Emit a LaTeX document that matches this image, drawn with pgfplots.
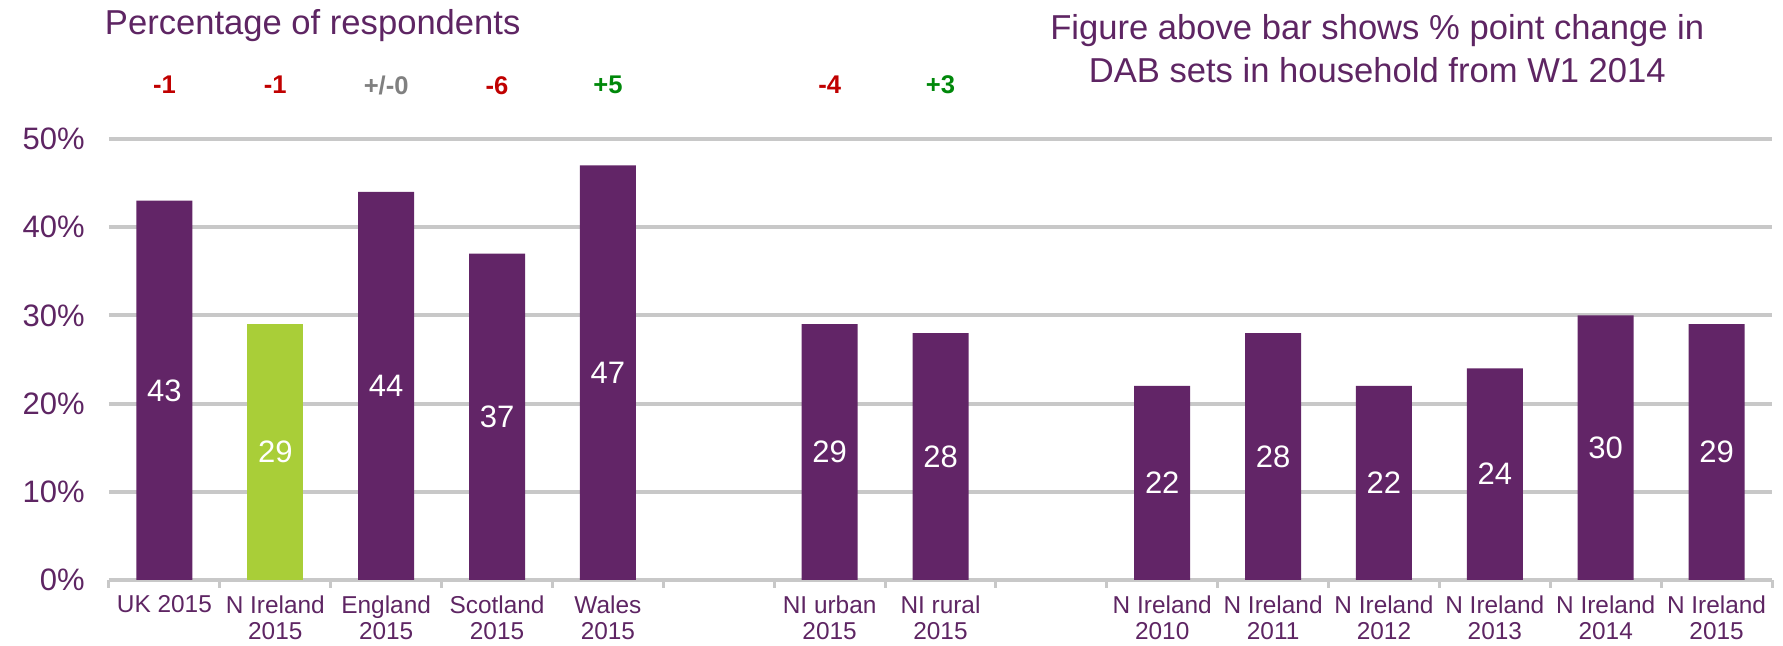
\documentclass[border=0pt]{standalone}
\usepackage{pgfplots}
\pgfplotsset{compat=1.18}
\usepackage{fontspec}
\setmainfont{Liberation Sans}
\definecolor{barpurple}{HTML}{622567}
\definecolor{bargreen}{HTML}{A9CE38}
\definecolor{txtpurple}{HTML}{5E2563}
\definecolor{gridgray}{HTML}{C8C8C8}
\definecolor{chred}{HTML}{C00000}
\definecolor{chgreen}{HTML}{00880A}
\definecolor{chgray}{HTML}{808080}
\tikzset{
  valnode/.style={text=white, font=\fontsize{15.5}{18}\selectfont},
  chnode/.style={font=\bfseries\fontsize{12.8}{15}\selectfont},
}
\begin{document}
\begin{tikzpicture}
\useasboundingbox (-54.5pt,-33pt) rectangle (837pt,290pt);
\begin{axis}[
  at={(0,0)}, anchor=south west,
  scale only axis,
  width=831.5pt, height=220.5pt,
  xmin=-0.5, xmax=14.5, ymin=0, ymax=50,
  clip=false,
  ybar, bar width=28pt, bar shift=0pt,
  axis lines*=left,
  y axis line style={draw=none},
  x axis line style={gridgray, line width=2pt},
  ymajorgrids, grid style={gridgray, line width=2pt},
  ytick={0,10,20,30,40,50},
  yticklabel={\pgfmathprintnumber{\tick}\%},
  yticklabel style={anchor=east, inner sep=0pt, xshift=-12pt, text=txtpurple, font=\fontsize{15.5}{18}\selectfont},
  ytick style={draw=none},
  /pgf/number format/assume math mode=true,
  xtick={0,1,2,3,4,6,7,9,10,11,12,13,14},
  xticklabels={UK 2015,{N Ireland\\2015},{England\\2015},{Scotland\\2015},{Wales\\2015},{NI urban\\2015},{NI rural\\2015},{N Ireland\\2010},{N Ireland\\2011},{N Ireland\\2012},{N Ireland\\2013},{N Ireland\\2014},{N Ireland\\2015}},
  xticklabel style={align=center, anchor=north, inner sep=0pt, yshift=-3.5pt, text=txtpurple, font=\fontsize{12.2}{13}\selectfont},
  major x tick style={draw=none},
  minor xtick={-0.5,0.5,...,14.5},
  minor x tick style={gridgray, line width=1.5pt},
  xtick align=outside,
  minor tick length=4pt,
]
\addplot[fill=barpurple, draw=none] coordinates {(0,43) (2,44) (3,37) (4,47) (6,29) (7,28) (9,22) (10,28) (11,22) (12,24) (13,30) (14,29)};
\addplot[fill=bargreen, draw=none] coordinates {(1,29)};
% values inside bars
\node[valnode] at (axis cs:0,21.5) {43};
\node[valnode] at (axis cs:1,14.5) {29};
\node[valnode] at (axis cs:2,22) {44};
\node[valnode] at (axis cs:3,18.5) {37};
\node[valnode] at (axis cs:4,23.5) {47};
\node[valnode] at (axis cs:6,14.5) {29};
\node[valnode] at (axis cs:7,14) {28};
\node[valnode] at (axis cs:9,11) {22};
\node[valnode] at (axis cs:10,14) {28};
\node[valnode] at (axis cs:11,11) {22};
\node[valnode] at (axis cs:12,12) {24};
\node[valnode] at (axis cs:13,15) {30};
\node[valnode] at (axis cs:14,14.5) {29};
% change labels
\node[chnode, text=chred] at (axis cs:0,56.1) {-1};
\node[chnode, text=chred] at (axis cs:1,56.1) {-1};
\node[chnode, text=chgray] at (axis cs:2,56.1) {+/-0};
\node[chnode, text=chred] at (axis cs:3,56.1) {-6};
\node[chnode, text=chgreen] at (axis cs:4,56.1) {+5};
\node[chnode, text=chred] at (axis cs:6,56.1) {-4};
\node[chnode, text=chgreen] at (axis cs:7,56.1) {+3};
\node[anchor=west, text=txtpurple, font=\fontsize{17.3}{20}\selectfont, inner sep=0pt] at (axis cs:-0.54,62.9) {Percentage of respondents};
\node[align=center, text=txtpurple, font=\fontsize{17.3}{21.5}\selectfont, inner sep=0pt] at (axis cs:10.94,60.3) {Figure above bar shows \% point change in\\DAB sets in household from W1 2014};
\end{axis}
\end{tikzpicture}
\end{document}
